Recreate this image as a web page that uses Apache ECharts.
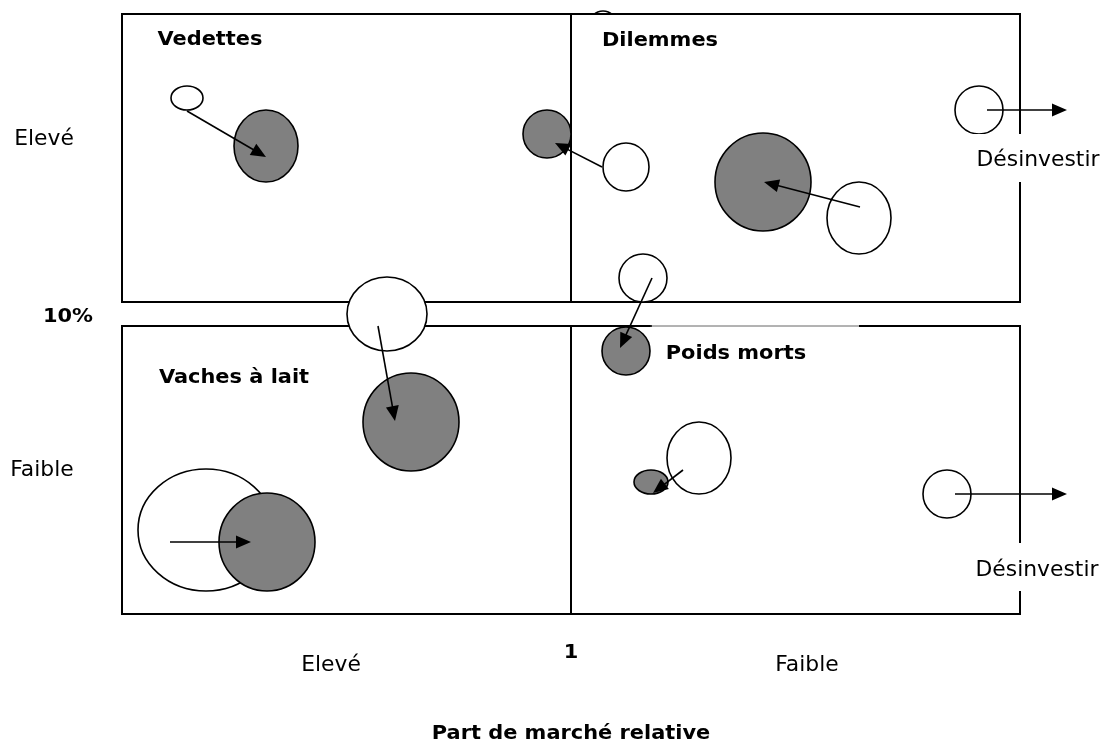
<!DOCTYPE html>
<html>
<head>
<meta charset="utf-8">
<script src="https://cdn.jsdelivr.net/npm/echarts@6/dist/echarts.min.js"></script>
<style>
html,body{margin:0;padding:0;background:#fff;}
#chart{width:1102px;height:749px;}
</style>
</head>
<body>
<div id="chart"></div>
<script>
// ---- Diagram data (in the drawing's own units; axes map them to the page) ----
// Matrix frame
const frameX = [122, 571, 1020];          // left edge, divider (share = 1), right edge
const frameTopY = [14, 302];              // high-growth band
const frameBottomY = [326, 614];          // low-growth band
const gapTopY = [133, 183];               // break in right edge for "Désinvestir" (top)
const gapBottomY = [542, 592];            // break in right edge for "Désinvestir" (bottom)
const fadedTopSegment = [651, 860];       // lighter piece of the lower band's top edge

// Bubbles: current position (white) and target position (grey)
const bubbleX    = [187, 266, 547, 626, 763, 859, 979, 643, 626, 699, 651, 947, 387, 411, 206, 267];
const bubbleY    = [ 98, 146, 134, 167, 182, 218, 110, 278, 351, 458, 482, 494, 314, 422, 530, 542];
const bubbleRX   = [ 16,  32,  24,  23,  48,  32,  24,  24,  24,  32,  17,  24,  40,  48,  68,  48];
const bubbleRY   = [ 12,  36,  24,  24,  49,  36,  24,  24,  24,  36,  12,  24,  37,  49,  61,  49];
const bubbleKind = ['now','target','target','now','target','now','now','now','target','now','target','now','now','target','now','target'];

// Hidden bubble peeking above the top edge
const hiddenBubble = [603, 24.5, 13.5, 13.5];

// Movement arrows
const arrowFromX = [187, 602, 860,  987, 652, 683,  955, 378, 170];
const arrowFromY = [111, 167, 207,  110, 278, 470,  494, 326, 542];
const arrowToX   = [266, 555, 764, 1067, 620, 653, 1067, 395, 251];
const arrowToY   = [157, 143, 182,  110, 348, 493,  494, 421, 542];

// Text
const quadrantLabels = ['Vedettes', 'Dilemmes', 'Vaches à lait', 'Poids morts'];
const quadrantLabelX = [210, 660, 234, 736];
const quadrantLabelY = [40, 41, 378, 354];

const growthTicks  = ['Elevé', '10%', 'Faible'];
const growthTickX  = [44, 68, 42];
const growthTickY  = [140, 317, 471];
const growthBold   = [false, true, false];

const shareTicks = ['Elevé', '1', 'Faible'];
const shareTickX = [331, 571, 807];
const shareTickY = [666, 653, 666];
const shareBold  = [false, true, false];

const shareTitle = 'Part de marché relative';
const shareTitlePos = [571, 734];

const actionLabel = 'Désinvestir';
const actionLabelX = [1038, 1037];
const actionLabelY = [161, 571];
const actionBoxX = [950, 1102];

// ---- Build ----
const FONT = '"DejaVu Sans", sans-serif';
const GREY = '#808080';

const chart = echarts.init(document.getElementById('chart'), null, {renderer: 'canvas'});

function seg(x1, y1, x2, y2, w, c) { return [x1, y1, x2, y2, w, c]; }
const frameSegments = [];
// top band
frameSegments.push(seg(frameX[0], frameTopY[0], frameX[2], frameTopY[0], 2, '#000'));
frameSegments.push(seg(frameX[0], frameTopY[1], frameX[2], frameTopY[1], 2, '#000'));
frameSegments.push(seg(frameX[0], frameTopY[0], frameX[0], frameTopY[1], 2, '#000'));
frameSegments.push(seg(frameX[1], frameTopY[0], frameX[1], frameTopY[1], 2, '#000'));
frameSegments.push(seg(frameX[2], frameTopY[0], frameX[2], gapTopY[0], 2, '#000'));
frameSegments.push(seg(frameX[2], gapTopY[1], frameX[2], frameTopY[1], 2, '#000'));
// bottom band
frameSegments.push(seg(frameX[0], frameBottomY[0], fadedTopSegment[0], frameBottomY[0], 2, '#000'));
frameSegments.push(seg(fadedTopSegment[0], frameBottomY[0], fadedTopSegment[1], frameBottomY[0], 1, '#666'));
frameSegments.push(seg(fadedTopSegment[1], frameBottomY[0], frameX[2], frameBottomY[0], 2, '#000'));
frameSegments.push(seg(frameX[0], frameBottomY[1], frameX[2], frameBottomY[1], 2, '#000'));
frameSegments.push(seg(frameX[0], frameBottomY[0], frameX[0], frameBottomY[1], 2, '#000'));
frameSegments.push(seg(frameX[1], frameBottomY[0], frameX[1], frameBottomY[1], 2, '#000'));
frameSegments.push(seg(frameX[2], frameBottomY[0], frameX[2], gapBottomY[0], 2, '#000'));
frameSegments.push(seg(frameX[2], gapBottomY[1], frameX[2], frameBottomY[1], 2, '#000'));

const bubbleData = bubbleX.map((x, i) => [x, bubbleY[i], bubbleRX[i], bubbleRY[i], bubbleKind[i] === 'target' ? 1 : 0]);
const arrowData = arrowFromX.map((x, i) => [x, arrowFromY[i], arrowToX[i], arrowToY[i]]);

// [x, y, text, bold]
const textData = [];
quadrantLabels.forEach((t, i) => textData.push([quadrantLabelX[i], quadrantLabelY[i], t, 1]));
growthTicks.forEach((t, i) => textData.push([growthTickX[i], growthTickY[i], t, growthBold[i] ? 1 : 0]));
shareTicks.forEach((t, i) => textData.push([shareTickX[i], shareTickY[i], t, shareBold[i] ? 1 : 0]));
textData.push([shareTitlePos[0], shareTitlePos[1], shareTitle, 1]);
actionLabelY.forEach((y, i) => textData.push([actionLabelX[i], y, actionLabel, 0]));

const actionBoxData = actionLabelY.map((y, i) => [actionBoxX[0], i === 0 ? gapTopY[0] : gapBottomY[0], actionBoxX[1], i === 0 ? gapTopY[1] : gapBottomY[1]]);

function ell(api, cx, cy, rx, ry, fill, z2) {
  const c = api.coord([cx, cy]);
  const s = api.size([rx, ry]);
  return {
    type: 'ellipse',
    shape: {cx: c[0], cy: c[1], rx: Math.abs(s[0]), ry: Math.abs(s[1])},
    style: {fill: fill, stroke: '#000', lineWidth: 1.6},
    z2: z2 || 0
  };
}

const option = {
  animation: false,
  backgroundColor: '#ffffff',
  grid: {left: 0, right: 0, top: 0, bottom: 0},
  xAxis: {type: 'value', min: 0, max: 1102, show: false},
  yAxis: {type: 'value', min: 0, max: 749, inverse: true, show: false},
  series: [
    { // hidden bubble behind the top-right quadrant
      type: 'custom', z: 1, silent: true,
      data: [hiddenBubble],
      renderItem: (p, api) => ell(api, api.value(0), api.value(1), api.value(2), api.value(3), '#fff')
    },
    { // white interior of the upper right quadrant
      type: 'custom', z: 2, silent: true,
      data: [[frameX[1], frameTopY[0], frameX[2], frameTopY[1]]],
      renderItem: (p, api) => {
        const a = api.coord([api.value(0), api.value(1)]);
        const b = api.coord([api.value(2), api.value(3)]);
        return {type: 'rect', shape: {x: a[0], y: a[1], width: b[0] - a[0], height: b[1] - a[1]}, style: {fill: '#fff'}};
      }
    },
    { // frame
      type: 'custom', z: 3, silent: true,
      data: frameSegments,
      renderItem: (p, api) => {
        const a = api.coord([api.value(0), api.value(1)]);
        const b = api.coord([api.value(2), api.value(3)]);
        const d = frameSegments[p.dataIndex];
        return {type: 'line', shape: {x1: a[0], y1: a[1], x2: b[0], y2: b[1]}, style: {stroke: d[5], lineWidth: d[4], lineCap: 'square'}};
      }
    },
    { // bubbles
      type: 'custom', z: 4, silent: true,
      data: bubbleData,
      renderItem: (p, api) => ell(api, api.value(0), api.value(1), api.value(2), api.value(3), api.value(4) ? GREY : '#fff', p.dataIndex)
    },
    { // white boxes behind "Désinvestir"
      type: 'custom', z: 5, silent: true,
      data: actionBoxData,
      renderItem: (p, api) => {
        const a = api.coord([api.value(0), api.value(1)]);
        const b = api.coord([api.value(2), api.value(3)]);
        return {type: 'rect', shape: {x: a[0], y: a[1] + 1, width: b[0] - a[0], height: b[1] - a[1] - 2}, style: {fill: '#fff'}};
      }
    },
    { // arrows
      type: 'custom', z: 6, silent: true,
      data: arrowData,
      renderItem: (p, api) => {
        const a = api.coord([api.value(0), api.value(1)]);
        const b = api.coord([api.value(2), api.value(3)]);
        const dx = b[0] - a[0], dy = b[1] - a[1];
        const len = Math.sqrt(dx * dx + dy * dy);
        const ux = dx / len, uy = dy / len;
        const L = 15, W = 6.5;
        const bx = b[0] - ux * L, by = b[1] - uy * L;
        return {
          type: 'group',
          children: [
            {type: 'line', shape: {x1: a[0], y1: a[1], x2: bx + ux * 2, y2: by + uy * 2}, style: {stroke: '#000', lineWidth: 1.6}},
            {type: 'polygon', shape: {points: [[b[0], b[1]], [bx - uy * W, by + ux * W], [bx + uy * W, by - ux * W]]}, style: {fill: '#000'}}
          ]
        };
      }
    },
    { // texts
      type: 'custom', z: 7, silent: true,
      data: textData,
      renderItem: (p, api) => {
        const d = textData[p.dataIndex];
        const c = api.coord([d[0], d[1]]);
        const bold = d[3] === 1;
        return {
          type: 'text', x: c[0], y: c[1],
          scaleX: bold ? 1.045 : 1.04,
          style: {text: d[2], fontFamily: FONT, fontSize: bold ? 20 : 21, fontWeight: bold ? 'bold' : 'normal', fill: '#000', align: 'center', verticalAlign: 'middle'}
        };
      }
    }
  ]
};
chart.setOption(option);
</script>
</body>
</html>
